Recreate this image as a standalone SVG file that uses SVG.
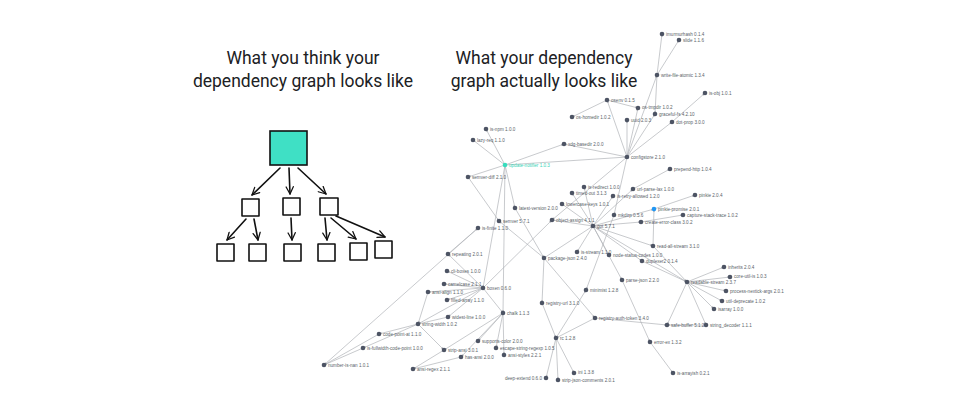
<svg xmlns="http://www.w3.org/2000/svg" width="960" height="420" viewBox="0 0 960 420">
<defs>
<style>
.t{font-family:Roboto,"Liberation Sans",sans-serif;font-size:17.5px;fill:#202124;text-anchor:middle}
.sk{fill:none;stroke:#111;stroke-width:1.6;stroke-linecap:round;stroke-linejoin:round}
.e line{stroke:#b0b3b8;stroke-width:0.7;marker-end:url(#ma)}
.n circle{fill:#4d5464}
.n text{font-family:"Liberation Sans",sans-serif;font-size:4.6px;fill:#5a5f69}
.hl circle{fill:#37dcbd}
.hl text{fill:#37d3b6}
.bl circle{fill:#2196f3}
</style>
<marker id="ha" viewBox="0 0 10 10" refX="9" refY="5" markerWidth="9" markerHeight="9" markerUnits="userSpaceOnUse" orient="auto"><path d="M1,1 L9,5 L1,9" fill="none" stroke="#111" stroke-width="1.4" stroke-linecap="round" stroke-linejoin="round"/></marker>
<marker id="ma" viewBox="0 0 8 4" refX="6.5" refY="2" markerWidth="4" markerHeight="2" markerUnits="userSpaceOnUse" orient="auto"><path d="M0,0 L3,2 L0,4" fill="none" stroke="#888b93" stroke-width="0.8"/></marker>
</defs>
<rect width="960" height="420" fill="#fff"/>

<text class="t" x="303" y="64">What you think your</text>
<text class="t" x="303" y="87">dependency graph looks like</text>
<text class="t" x="544" y="64">What your dependency</text>
<text class="t" x="544" y="87">graph actually looks like</text>

<!-- left sketch -->
<g id="sketch">
<rect id="root" x="270" y="131" width="37" height="34" fill="#3fe0c5" stroke="#111" stroke-width="1.6"/>
<g class="sk">
<rect x="242" y="199" width="17" height="17"/>
<rect x="283" y="198" width="17" height="17"/>
<rect x="320" y="198" width="18" height="17"/>
<rect x="217" y="244" width="17" height="17"/>
<rect x="249" y="244" width="17" height="17"/>
<rect x="284" y="244" width="17" height="17"/>
<rect x="318" y="244" width="17" height="17"/>
<rect x="350" y="243" width="17" height="17"/>
<rect x="375" y="241" width="17" height="17"/>
</g>
<g class="sk">
<line x1="280" y1="168" x2="252" y2="195" marker-end="url(#ha)"/>
<line x1="289" y1="168" x2="290" y2="194" marker-end="url(#ha)"/>
<line x1="298" y1="168" x2="326" y2="194" marker-end="url(#ha)"/>
<line x1="246" y1="219" x2="227" y2="240" marker-end="url(#ha)"/>
<line x1="254" y1="219" x2="258" y2="240" marker-end="url(#ha)"/>
<line x1="291" y1="218" x2="292" y2="240" marker-end="url(#ha)"/>
<line x1="325" y1="218" x2="327" y2="240" marker-end="url(#ha)"/>
<line x1="331" y1="218" x2="356" y2="239" marker-end="url(#ha)"/>
<line x1="336" y1="216" x2="385" y2="237" marker-end="url(#ha)"/>
</g>
</g>

<!-- connectors -->
<g id="edges" class="e">
<line x1="505" y1="165" x2="483" y2="288"/>
<line x1="505" y1="165" x2="503" y2="313"/>
<line x1="505" y1="165" x2="627" y2="157"/>
<line x1="505" y1="165" x2="486" y2="129"/>
<line x1="505" y1="165" x2="515" y2="208"/>
<line x1="505" y1="165" x2="473" y2="140"/>
<line x1="505" y1="165" x2="468" y2="177"/>
<line x1="505" y1="165" x2="564" y2="144"/>
<line x1="627" y1="157" x2="672" y2="122"/>
<line x1="627" y1="157" x2="655" y2="114"/>
<line x1="627" y1="157" x2="614" y2="215"/>
<line x1="627" y1="157" x2="552" y2="220"/>
<line x1="627" y1="157" x2="638" y2="108"/>
<line x1="627" y1="157" x2="607" y2="100"/>
<line x1="627" y1="157" x2="627" y2="120"/>
<line x1="627" y1="157" x2="657" y2="75"/>
<line x1="627" y1="157" x2="564" y2="144"/>
<line x1="657" y1="75" x2="655" y2="114"/>
<line x1="657" y1="75" x2="662" y2="34"/>
<line x1="657" y1="75" x2="679" y2="40"/>
<line x1="607" y1="100" x2="572" y2="117"/>
<line x1="607" y1="100" x2="638" y2="108"/>
<line x1="672" y1="122" x2="705" y2="93"/>
<line x1="614" y1="215" x2="586" y2="290"/>
<line x1="483" y1="288" x2="428" y2="292"/>
<line x1="483" y1="288" x2="444" y2="284"/>
<line x1="483" y1="288" x2="503" y2="313"/>
<line x1="483" y1="288" x2="447" y2="271"/>
<line x1="483" y1="288" x2="447" y2="300"/>
<line x1="483" y1="288" x2="552" y2="220"/>
<line x1="483" y1="288" x2="448" y2="254"/>
<line x1="483" y1="288" x2="418" y2="324"/>
<line x1="483" y1="288" x2="448" y2="317"/>
<line x1="428" y1="292" x2="418" y2="324"/>
<line x1="448" y1="317" x2="418" y2="324"/>
<line x1="448" y1="254" x2="478" y2="228"/>
<line x1="478" y1="228" x2="324" y2="365"/>
<line x1="418" y1="324" x2="379" y2="334"/>
<line x1="418" y1="324" x2="363" y2="348"/>
<line x1="418" y1="324" x2="444" y2="350"/>
<line x1="379" y1="334" x2="324" y2="365"/>
<line x1="363" y1="348" x2="324" y2="365"/>
<line x1="444" y1="350" x2="413" y2="369"/>
<line x1="461" y1="357" x2="413" y2="369"/>
<line x1="503" y1="313" x2="504" y2="355"/>
<line x1="503" y1="313" x2="496" y2="348"/>
<line x1="503" y1="313" x2="461" y2="357"/>
<line x1="503" y1="313" x2="444" y2="350"/>
<line x1="503" y1="313" x2="478" y2="341"/>
<line x1="515" y1="208" x2="544" y2="258"/>
<line x1="544" y1="258" x2="593" y2="226"/>
<line x1="544" y1="258" x2="595" y2="318"/>
<line x1="544" y1="258" x2="542" y2="303"/>
<line x1="544" y1="258" x2="499" y2="221"/>
<line x1="468" y1="177" x2="499" y2="221"/>
<line x1="542" y1="303" x2="556" y2="338"/>
<line x1="595" y1="318" x2="556" y2="338"/>
<line x1="595" y1="318" x2="667" y2="325"/>
<line x1="556" y1="338" x2="546" y2="378"/>
<line x1="556" y1="338" x2="574" y2="373"/>
<line x1="556" y1="338" x2="586" y2="290"/>
<line x1="556" y1="338" x2="558" y2="380"/>
<line x1="593" y1="226" x2="641" y2="222"/>
<line x1="593" y1="226" x2="642" y2="261"/>
<line x1="593" y1="226" x2="584" y2="187"/>
<line x1="593" y1="226" x2="613" y2="196"/>
<line x1="593" y1="226" x2="577" y2="252"/>
<line x1="593" y1="226" x2="562" y2="204"/>
<line x1="593" y1="226" x2="609" y2="255"/>
<line x1="593" y1="226" x2="552" y2="220"/>
<line x1="593" y1="226" x2="622" y2="280"/>
<line x1="593" y1="226" x2="654" y2="209"/>
<line x1="593" y1="226" x2="653" y2="246"/>
<line x1="593" y1="226" x2="687" y2="282"/>
<line x1="593" y1="226" x2="572" y2="193"/>
<line x1="593" y1="226" x2="633" y2="189"/>
<line x1="633" y1="189" x2="670" y2="169"/>
<line x1="654" y1="209" x2="695" y2="195"/>
<line x1="641" y1="222" x2="683" y2="215"/>
<line x1="653" y1="246" x2="654" y2="209"/>
<line x1="653" y1="246" x2="687" y2="282"/>
<line x1="642" y1="261" x2="687" y2="282"/>
<line x1="622" y1="280" x2="650" y2="342"/>
<line x1="650" y1="342" x2="673" y2="373"/>
<line x1="687" y1="282" x2="730" y2="277"/>
<line x1="687" y1="282" x2="724" y2="267"/>
<line x1="687" y1="282" x2="714" y2="309"/>
<line x1="687" y1="282" x2="726" y2="291"/>
<line x1="687" y1="282" x2="667" y2="325"/>
<line x1="687" y1="282" x2="706" y2="325"/>
<line x1="687" y1="282" x2="722" y2="301"/>
<line x1="706" y1="325" x2="667" y2="325"/>
</g>

<!-- nodes -->
<g id="n-imurmurhash" class="n"><circle cx="662" cy="34" r="2.3"/><text x="666" y="35.6">imurmurhash 0.1.4</text></g>
<g id="n-slide" class="n"><circle cx="679" cy="40" r="2.3"/><text x="683" y="41.6">slide 1.1.6</text></g>
<g id="n-write-file-atomic" class="n"><circle cx="657" cy="75" r="2.3"/><text x="661" y="76.6">write-file-atomic 1.3.4</text></g>
<g id="n-is-obj" class="n"><circle cx="705" cy="93" r="2.3"/><text x="709" y="94.6">is-obj 1.0.1</text></g>
<g id="n-osenv" class="n"><circle cx="607" cy="100" r="2.3"/><text x="611" y="101.6">osenv 0.1.5</text></g>
<g id="n-os-tmpdir" class="n"><circle cx="638" cy="108" r="2.3"/><text x="642" y="109.4">os-tmpdir 1.0.2</text></g>
<g id="n-graceful-fs" class="n"><circle cx="655" cy="114" r="2.3"/><text x="659" y="115.6">graceful-fs 4.2.10</text></g>
<g id="n-uuid" class="n"><circle cx="627" cy="120" r="2.3"/><text x="631" y="121.6">uuid 2.0.3</text></g>
<g id="n-os-homedir" class="n"><circle cx="572" cy="117" r="2.3"/><text x="576" y="118.6">os-homedir 1.0.2</text></g>
<g id="n-dot-prop" class="n"><circle cx="672" cy="122" r="2.3"/><text x="676" y="123.6">dot-prop 3.0.0</text></g>
<g id="n-xdg-basedir" class="n"><circle cx="564" cy="144" r="2.3"/><text x="568" y="145.6">xdg-basedir 2.0.0</text></g>
<g id="n-is-npm" class="n"><circle cx="486" cy="129" r="2.3"/><text x="490" y="130.6">is-npm 1.0.0</text></g>
<g id="n-lazy-req" class="n"><circle cx="473" cy="140" r="2.3"/><text x="477" y="141.6">lazy-req 1.1.0</text></g>
<g id="n-configstore" class="n"><circle cx="627" cy="157" r="2.3"/><text x="631" y="158.6">configstore 2.1.0</text></g>
<g id="n-update-notifier" class="n hl"><circle cx="505" cy="165" r="2.3"/><text x="509" y="166.6">update-notifier 1.0.3</text></g>
<g id="n-prepend-http" class="n"><circle cx="670" cy="169" r="2.3"/><text x="674" y="170.6">prepend-http 1.0.4</text></g>
<g id="n-semver-diff" class="n"><circle cx="468" cy="177" r="2.3"/><text x="472" y="178.6">semver-diff 2.1.0</text></g>
<g id="n-is-redirect" class="n"><circle cx="584" cy="187" r="2.3"/><text x="588" y="188.6">is-redirect 1.0.0</text></g>
<g id="n-url-parse-lax" class="n"><circle cx="633" cy="189" r="2.3"/><text x="637" y="190.6">url-parse-lax 1.0.0</text></g>
<g id="n-timed-out" class="n"><circle cx="572" cy="193" r="2.3"/><text x="576" y="194.6">timed-out 3.1.3</text></g>
<g id="n-is-retry-allowed" class="n"><circle cx="613" cy="196" r="2.3"/><text x="617" y="197.6">is-retry-allowed 1.2.0</text></g>
<g id="n-pinkie" class="n"><circle cx="695" cy="195" r="2.3"/><text x="699" y="196.6">pinkie 2.0.4</text></g>
<g id="n-lowercase-keys" class="n"><circle cx="562" cy="204" r="2.3"/><text x="566" y="205.6">lowercase-keys 1.0.1</text></g>
<g id="n-latest-version" class="n"><circle cx="515" cy="208" r="2.3"/><text x="519" y="209.6">latest-version 2.0.0</text></g>
<g id="n-pinkie-promise" class="n bl"><circle cx="654" cy="209" r="2.3"/><text x="658" y="210.6">pinkie-promise 2.0.1</text></g>
<g id="n-mkdirp" class="n"><circle cx="614" cy="215" r="2.3"/><text x="618" y="216.6">mkdirp 0.5.6</text></g>
<g id="n-capture-stack-trace" class="n"><circle cx="683" cy="215" r="2.3"/><text x="687" y="216.6">capture-stack-trace 1.0.2</text></g>
<g id="n-create-error-class" class="n"><circle cx="641" cy="222" r="2.3"/><text x="645" y="223.6">create-error-class 3.0.2</text></g>
<g id="n-semver" class="n"><circle cx="499" cy="221" r="2.3"/><text x="503" y="222.6">semver 5.7.1</text></g>
<g id="n-object-assign" class="n"><circle cx="552" cy="220" r="2.3"/><text x="556" y="221.6">object-assign 4.1.1</text></g>
<g id="n-got" class="n"><circle cx="593" cy="226" r="2.3"/><text x="597" y="227.6">got 5.7.1</text></g>
<g id="n-is-finite" class="n"><circle cx="478" cy="228" r="2.3"/><text x="482" y="229.6">is-finite 1.1.0</text></g>
<g id="n-read-all-stream" class="n"><circle cx="653" cy="246" r="2.3"/><text x="657" y="247.6">read-all-stream 3.1.0</text></g>
<g id="n-repeating" class="n"><circle cx="448" cy="254" r="2.3"/><text x="452" y="255.6">repeating 2.0.1</text></g>
<g id="n-is-stream" class="n"><circle cx="577" cy="252" r="2.3"/><text x="581" y="253.6">is-stream 1.1.0</text></g>
<g id="n-node-status-codes" class="n"><circle cx="609" cy="255" r="2.3"/><text x="613" y="256.6">node-status-codes 1.0.0</text></g>
<g id="n-duplexer2" class="n"><circle cx="642" cy="261" r="2.3"/><text x="646" y="262.6">duplexer2 0.1.4</text></g>
<g id="n-package-json" class="n"><circle cx="544" cy="258" r="2.3"/><text x="548" y="259.6">package-json 2.4.0</text></g>
<g id="n-inherits" class="n"><circle cx="724" cy="267" r="2.3"/><text x="728" y="268.6">inherits 2.0.4</text></g>
<g id="n-cli-boxes" class="n"><circle cx="447" cy="271" r="2.3"/><text x="451" y="272.6">cli-boxes 1.0.0</text></g>
<g id="n-parse-json" class="n"><circle cx="622" cy="280" r="2.3"/><text x="626" y="281.6">parse-json 2.2.0</text></g>
<g id="n-readable-stream" class="n"><circle cx="687" cy="282" r="2.3"/><text x="691" y="283.6">readable-stream 2.3.7</text></g>
<g id="n-core-util-is" class="n"><circle cx="730" cy="277" r="2.3"/><text x="734" y="278.4">core-util-is 1.0.3</text></g>
<g id="n-camelcase" class="n"><circle cx="444" cy="284" r="2.3"/><text x="448" y="285.6">camelcase 2.1.1</text></g>
<g id="n-boxen" class="n"><circle cx="483" cy="288" r="2.3"/><text x="487" y="289.6">boxen 0.6.0</text></g>
<g id="n-minimist" class="n"><circle cx="586" cy="290" r="2.3"/><text x="590" y="291.6">minimist 1.2.8</text></g>
<g id="n-process-nextick-args" class="n"><circle cx="726" cy="291" r="2.3"/><text x="730" y="292.6">process-nextick-args 2.0.1</text></g>
<g id="n-ansi-align" class="n"><circle cx="428" cy="292" r="2.3"/><text x="432" y="293.6">ansi-align 1.1.0</text></g>
<g id="n-filled-array" class="n"><circle cx="447" cy="300" r="2.3"/><text x="451" y="301.6">filled-array 1.1.0</text></g>
<g id="n-util-deprecate" class="n"><circle cx="722" cy="301" r="2.3"/><text x="726" y="302.6">util-deprecate 1.0.2</text></g>
<g id="n-registry-url" class="n"><circle cx="542" cy="303" r="2.3"/><text x="546" y="304.6">registry-url 3.1.0</text></g>
<g id="n-isarray" class="n"><circle cx="714" cy="309" r="2.3"/><text x="718" y="310.6">isarray 1.0.0</text></g>
<g id="n-chalk" class="n"><circle cx="503" cy="313" r="2.3"/><text x="507" y="314.6">chalk 1.1.3</text></g>
<g id="n-widest-line" class="n"><circle cx="448" cy="317" r="2.3"/><text x="452" y="318.6">widest-line 1.0.0</text></g>
<g id="n-registry-auth-token" class="n"><circle cx="595" cy="318" r="2.3"/><text x="599" y="319.6">registry-auth-token 3.4.0</text></g>
<g id="n-string-width" class="n"><circle cx="418" cy="324" r="2.3"/><text x="422" y="325.6">string-width 1.0.2</text></g>
<g id="n-safe-buffer" class="n"><circle cx="667" cy="325" r="2.3"/><text x="671" y="326.6">safe-buffer 5.1.2</text></g>
<g id="n-string_decoder" class="n"><circle cx="706" cy="325" r="2.3"/><text x="710" y="326.6">string_decoder 1.1.1</text></g>
<g id="n-code-point-at" class="n"><circle cx="379" cy="334" r="2.3"/><text x="383" y="335.6">code-point-at 1.1.0</text></g>
<g id="n-rc" class="n"><circle cx="556" cy="338" r="2.3"/><text x="560" y="339.6">rc 1.2.8</text></g>
<g id="n-supports-color" class="n"><circle cx="478" cy="341" r="2.3"/><text x="482" y="342.6">supports-color 2.0.0</text></g>
<g id="n-error-ex" class="n"><circle cx="650" cy="342" r="2.3"/><text x="654" y="343.6">error-ex 1.3.2</text></g>
<g id="n-is-fullwidth-code-point" class="n"><circle cx="363" cy="348" r="2.3"/><text x="367" y="349.6">is-fullwidth-code-point 1.0.0</text></g>
<g id="n-escape-string-regexp" class="n"><circle cx="496" cy="348" r="2.3"/><text x="500" y="349.6">escape-string-regexp 1.0.5</text></g>
<g id="n-strip-ansi" class="n"><circle cx="444" cy="350" r="2.3"/><text x="448" y="351.6">strip-ansi 3.0.1</text></g>
<g id="n-ansi-styles" class="n"><circle cx="504" cy="355" r="2.3"/><text x="508" y="356.6">ansi-styles 2.2.1</text></g>
<g id="n-has-ansi" class="n"><circle cx="461" cy="357" r="2.3"/><text x="465" y="358.6">has-ansi 2.0.0</text></g>
<g id="n-number-is-nan" class="n"><circle cx="324" cy="365" r="2.3"/><text x="328" y="366.6">number-is-nan 1.0.1</text></g>
<g id="n-ansi-regex" class="n"><circle cx="413" cy="369" r="2.3"/><text x="417" y="370.6">ansi-regex 2.1.1</text></g>
<g id="n-is-arrayish" class="n"><circle cx="673" cy="373" r="2.3"/><text x="677" y="374.6">is-arrayish 0.2.1</text></g>
<g id="n-ini" class="n"><circle cx="574" cy="373" r="2.3"/><text x="578" y="374.4">ini 1.3.8</text></g>
<g id="n-deep-extend" class="n"><circle cx="546" cy="378" r="2.3"/><text x="542" y="379.6" text-anchor="end">deep-extend 0.6.0</text></g>
<g id="n-strip-json-comments" class="n"><circle cx="558" cy="380" r="2.3"/><text x="562" y="381.6">strip-json-comments 2.0.1</text></g>
</svg>
